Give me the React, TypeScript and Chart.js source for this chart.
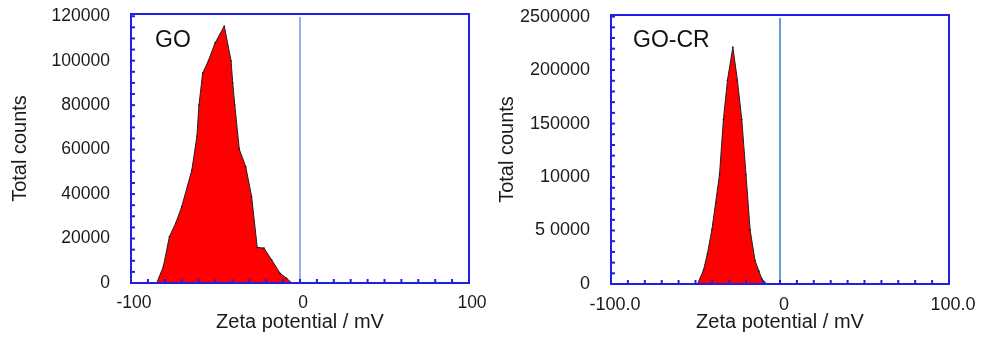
import React, { useEffect, useRef } from 'react';
import { Chart, registerables } from 'chart.js';
Chart.register(...registerables);

// ---- Data: GO ----
const goX = [-84.8, -80.9, -77.3, -73.5, -70, -64, -61, -59.8, -57.6, -54.2, -50.3, -44.8, -40.8, -39.8, -38.6, -35.9, -32.1, -28.6, -25.3, -21.3, -16.7, -11.8, -7.9, -4.9];
const goY = [0, 7300, 20800, 27000, 34300, 50800, 66000, 80100, 94400, 100000, 107900, 115600, 100000, 90000, 80100, 60100, 52300, 38800, 16000, 15700, 10300, 4400, 2100, 0];

// ---- Data: GO-CR ----
const gocrX = [-48.8, -45.3, -43, -40.3, -35.8, -33.5, -31.1, -27.9, -25.2, -22.6, -20.1, -17.7, -14.8, -12.5, -10.8, -7.9];
const gocrY = [0, 12800, 28000, 50800, 102200, 153600, 190400, 221500, 190400, 153600, 102200, 50800, 22100, 12000, 5000, 0];

// ---- Tick labels ----
const xTickValues = [-100, 0, 100];
const goXLabels = ['-100', '0', '100'];
const gocrXLabels = ['-100.0', '0', '100.0'];
const goYTickValues = [0, 20000, 40000, 60000, 80000, 100000, 120000];
const goYLabels = ['0', '20000', '40000', '60000', '80000', '100000', '120000'];
const gocrYTickValues = [0, 50000, 100000, 150000, 200000, 250000];
const gocrYLabels = ['0', '5 0000', '10000', '150000', '200000', '2500000'];

const FONT = "'Liberation Sans', Arial, sans-serif";
const TEXT = '#1a1a1a';
const FRAME = '#1f1fe6';
const ZERO = '#6a9bdc';

type PanelCfg = {
  xs: number[]; ys: number[];
  yMax: number; yTicks: number[]; yLabels: string[]; yMinor: number;
  xLabels: string[];
  label: string; labelX: number; labelY: number;
  area: { left: number; right: number; top: number; bottom: number };
  width: number;
  tickFont: number;
  zeroWidth: number;
  xLabelOffset: number;
  yTitlePad: number;
};

function zeroPad(s: any) {
  s.paddingTop = 0;
  s.paddingBottom = 0;
  s.paddingLeft = 0;
  s.paddingRight = 0;
}

function makeConfig(p: PanelCfg): any {
  const framePlugin = {
    id: 'frameDeco',
    afterDatasetsDraw(chart: any) {
      const { ctx, chartArea } = chart;
      const xs = chart.scales.x;
      const ys = chart.scales.y;
      ctx.save();
      // zero line
      const zx = xs.getPixelForValue(0);
      ctx.strokeStyle = ZERO;
      ctx.lineWidth = p.zeroWidth;
      ctx.beginPath();
      ctx.moveTo(zx, chartArea.top + 3);
      ctx.lineTo(zx, chartArea.bottom);
      ctx.stroke();
      // ticks
      ctx.strokeStyle = FRAME;
      ctx.lineWidth = 2;
      for (let v = -100; v <= 100; v += 10) {
        const px = xs.getPixelForValue(v);
        ctx.beginPath();
        ctx.moveTo(px, chartArea.bottom);
        ctx.lineTo(px, chartArea.bottom - 4);
        ctx.stroke();
      }
      for (let v = 0; v <= p.yMax; v += p.yMinor) {
        const py = ys.getPixelForValue(v);
        ctx.beginPath();
        ctx.moveTo(chartArea.left, py);
        ctx.lineTo(chartArea.left + 4, py);
        ctx.stroke();
      }
      // frame
      ctx.strokeRect(chartArea.left, chartArea.top, chartArea.right - chartArea.left, chartArea.bottom - chartArea.top);
      // panel label
      ctx.fillStyle = '#111';
      ctx.font = `23px ${FONT}`;
      ctx.textAlign = 'left';
      ctx.textBaseline = 'middle';
      ctx.fillText(p.label, p.labelX, p.labelY);
      ctx.restore();
    },
  };

  return {
    type: 'line',
    data: {
      datasets: [
        {
          data: p.xs.map((x, i) => ({ x, y: p.ys[i] })),
          borderColor: '#222',
          borderWidth: 1,
          backgroundColor: '#ff0000',
          fill: 'origin',
          tension: 0,
          pointRadius: 0.8,
          pointBackgroundColor: '#111',
          pointBorderWidth: 0,
        },
      ],
    },
    options: {
      responsive: false,
      animation: false,
      devicePixelRatio: 1,
      layout: {
        padding: { top: p.area.top, right: p.width - p.area.right, bottom: 0, left: 0 },
      },
      plugins: { legend: { display: false }, tooltip: { enabled: false } },
      scales: {
        x: {
          type: 'linear',
          min: -100,
          max: 100,
          grid: { display: false, drawTicks: false },
          border: { display: false },
          afterBuildTicks: (s: any) => { s.ticks = xTickValues.map((v) => ({ value: v })); },
          afterFit: (s: any) => { s.height = 338 - p.area.bottom; zeroPad(s); },
          ticks: {
            padding: 10,
            maxRotation: 0,
            autoSkip: false,
            labelOffset: p.xLabelOffset,
            color: TEXT,
            font: { family: FONT, size: p.tickFont },
            callback: (v: any) => p.xLabels[xTickValues.indexOf(Number(v))] ?? '',
          },
          title: {
            display: true,
            text: 'Zeta potential / mV',
            color: TEXT,
            font: { family: FONT, size: 20 },
            padding: { top: 0, bottom: 4 },
          },
        },
        y: {
          type: 'linear',
          min: 0,
          max: p.yMax,
          grid: { display: false, drawTicks: false },
          border: { display: false },
          afterBuildTicks: (s: any) => { s.ticks = p.yTicks.map((v) => ({ value: v })); },
          afterFit: (s: any) => { s.width = p.area.left; zeroPad(s); },
          ticks: {
            padding: 21,
            autoSkip: false,
            color: TEXT,
            font: { family: FONT, size: p.tickFont },
            callback: (v: any) => p.yLabels[p.yTicks.indexOf(Number(v))] ?? '',
          },
          title: {
            display: true,
            text: 'Total counts',
            color: TEXT,
            font: { family: FONT, size: 20 },
            padding: { top: p.yTitlePad, bottom: 0 },
          },
        },
      },
    },
    plugins: [framePlugin],
  };
}

function Panel({ cfg }: { cfg: PanelCfg }) {
  const ref = useRef<HTMLCanvasElement | null>(null);
  useEffect(() => {
    if (!ref.current) return;
    const chart = new Chart(ref.current, makeConfig(cfg));
    return () => chart.destroy();
  }, []);
  return (
    <div style={{ width: cfg.width, height: 338, position: 'relative' }}>
      <canvas ref={ref} width={cfg.width} height={338} style={{ width: cfg.width, height: 338, display: 'block' }} />
    </div>
  );
}

const goCfg: PanelCfg = {
  xs: goX, ys: goY,
  yMax: 121000, yTicks: goYTickValues, yLabels: goYLabels, yMinor: 5000,
  xLabels: goXLabels,
  label: 'GO', labelX: 155, labelY: 41,
  area: { left: 131, right: 469, top: 14, bottom: 283 },
  width: 490,
  tickFont: 17.5,
  zeroWidth: 1.5,
  xLabelOffset: 3,
  yTitlePad: 8,
};

const gocrCfg: PanelCfg = {
  xs: gocrX, ys: gocrY,
  yMax: 251500, yTicks: gocrYTickValues, yLabels: gocrYLabels, yMinor: 10000,
  xLabels: gocrXLabels,
  label: 'GO-CR', labelX: 143, labelY: 41,
  area: { left: 121, right: 459, top: 15, bottom: 284 },
  width: 491,
  tickFont: 18,
  zeroWidth: 2,
  xLabelOffset: 4,
  yTitlePad: 5,
};

export default function App() {
  return (
    <div style={{ position: 'fixed', left: 0, top: 0, width: 981, height: 338, display: 'flex', background: '#fff' }}>
      <Panel cfg={goCfg} />
      <Panel cfg={gocrCfg} />
    </div>
  );
}
